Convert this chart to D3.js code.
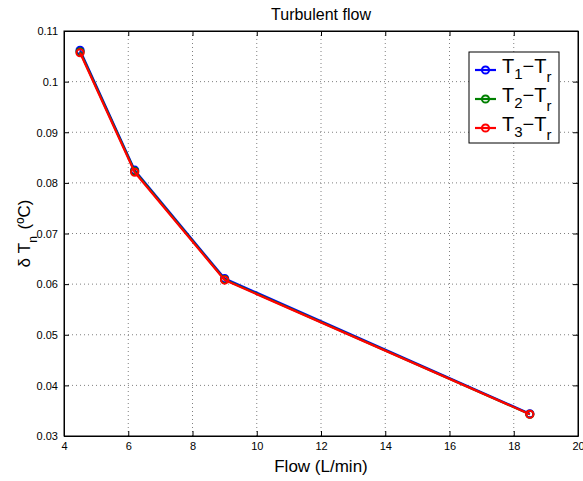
<!DOCTYPE html>
<html>
<head>
<meta charset="utf-8">
<script src="https://cdn.jsdelivr.net/npm/d3@7"></script>
<style>
  body { margin: 0; background: #fff; }
  svg { display: block; font-family: "Liberation Sans", Arial, sans-serif; }
</style>
</head>
<body>
<svg id="chart" width="583" height="481"></svg>
<script>
// data
const flow = [4.5, 6.2, 9, 18.5];
const dT1 = [0.1062, 0.0825, 0.0611, 0.0344];
const dT2 = [0.1059, 0.0823, 0.0609, 0.0343];
const dT3 = [0.1057, 0.0821, 0.0608, 0.0343];
const seriesNames = ["1", "2", "3"];
const seriesColors = ["#0000ff", "#008000", "#ff0000"];
const xTicks = [4, 6, 8, 10, 12, 14, 16, 18, 20];
const yTicks = [0.03, 0.04, 0.05, 0.06, 0.07, 0.08, 0.09, 0.1, 0.11];

const series = [dT1, dT2, dT3];

const margin = { top: 31, right: 5, bottom: 45, left: 64 };
const W = 583, H = 481;
const width = W - margin.left - margin.right,
  height = H - margin.top - margin.bottom;

const svg = d3.select("#chart");
const g = svg.append("g").attr("transform", `translate(${margin.left},${margin.top})`);

const x = d3.scaleLinear().domain([4, 20]).range([0, width]);
const y = d3.scaleLinear().domain([0.03, 0.11]).range([height, 0]);

// dotted grid
g.append("g").selectAll("line").data(xTicks.slice(1, -1)).join("line")
  .attr("x1", d => x(d)).attr("x2", d => x(d))
  .attr("y1", 0).attr("y2", height)
  .attr("stroke", "#808080").attr("stroke-width", 1).attr("stroke-dasharray", "1,3");
g.append("g").selectAll("line").data(yTicks.slice(1, -1)).join("line")
  .attr("y1", d => y(d)).attr("y2", d => y(d))
  .attr("x1", 0).attr("x2", width)
  .attr("stroke", "#808080").attr("stroke-width", 1).attr("stroke-dasharray", "1,3");

// axes, ticks inward like matlab
const fmtY = d => d3.format("~g")(+d.toFixed(2));
const xAxis = d3.axisBottom(x).tickValues(xTicks).tickSizeInner(-5).tickSizeOuter(0).tickPadding(6);
const yAxis = d3.axisLeft(y).tickValues(yTicks).tickFormat(fmtY).tickSizeInner(-5).tickSizeOuter(0).tickPadding(6);

const gx = g.append("g").attr("transform", `translate(0,${height})`).call(xAxis);
const gy = g.append("g").call(yAxis);
g.append("g").call(d3.axisTop(x).tickValues(xTicks).tickSizeInner(-5).tickSizeOuter(0).tickFormat(""));
g.append("g").attr("transform", `translate(${width},0)`)
  .call(d3.axisRight(y).tickValues(yTicks).tickSizeInner(-5).tickSizeOuter(0).tickFormat(""));

g.selectAll(".domain").attr("stroke", "#000").attr("stroke-width", 1);
g.selectAll(".tick line").attr("stroke", "#000");
g.selectAll(".tick text").attr("font-size", 11).attr("fill", "#000");
gy.selectAll(".tick text").attr("dy", "0.35em");

// box
g.append("rect").attr("width", width).attr("height", height)
  .attr("fill", "none").attr("stroke", "#000").attr("stroke-width", 1);

// lines + markers
const line = d3.line().x((d, i) => x(flow[i])).y(d => y(d));
series.forEach((s, k) => {
  g.append("path").datum(s)
    .attr("d", line)
    .attr("fill", "none")
    .attr("stroke", seriesColors[k])
    .attr("stroke-width", 2.2)
    .attr("stroke-linejoin", "round");
  g.append("g").selectAll("circle").data(s).join("circle")
    .attr("cx", (d, i) => x(flow[i]))
    .attr("cy", d => y(d))
    .attr("r", 3.6)
    .attr("fill", "none")
    .attr("stroke", seriesColors[k])
    .attr("stroke-width", 2);
});

// title & labels
svg.append("text").attr("x", margin.left + width / 2).attr("y", 20)
  .attr("text-anchor", "middle").attr("font-size", 16).text("Turbulent flow");

svg.append("text").attr("x", margin.left + width / 2).attr("y", 472)
  .attr("text-anchor", "middle").attr("font-size", 17).text("Flow (L/min)");

const yl = svg.append("text")
  .attr("transform", `translate(30,${margin.top + height / 2}) rotate(-90)`)
  .attr("text-anchor", "middle").attr("font-size", 17);
yl.append("tspan").text("δ T");
yl.append("tspan").attr("dy", 7).attr("font-size", 12).text("n");
yl.append("tspan").attr("dy", -7).attr("dx", 2).text(" (ºC)");

// legend
const lg = svg.append("g").attr("transform", "translate(469,52)");
lg.append("rect").attr("width", 90).attr("height", 91)
  .attr("fill", "#fff").attr("stroke", "#000").attr("stroke-width", 1);
seriesNames.forEach((n, k) => {
  const cy = 18 + k * 29;
  lg.append("line").attr("x1", 6).attr("x2", 27).attr("y1", cy).attr("y2", cy)
    .attr("stroke", seriesColors[k]).attr("stroke-width", 2.2);
  lg.append("circle").attr("cx", 16.5).attr("cy", cy).attr("r", 3.6)
    .attr("fill", "none").attr("stroke", seriesColors[k]).attr("stroke-width", 2);
  const t = lg.append("text").attr("x", 33).attr("y", cy + 3).attr("font-size", 20);
  t.append("tspan").text("T");
  t.append("tspan").attr("dy", 6).attr("font-size", 15).text(n);
  t.append("tspan").attr("dy", -6).text("−T");
  t.append("tspan").attr("dy", 9).attr("font-size", 15).text("r");
});
</script>
</body>
</html>
